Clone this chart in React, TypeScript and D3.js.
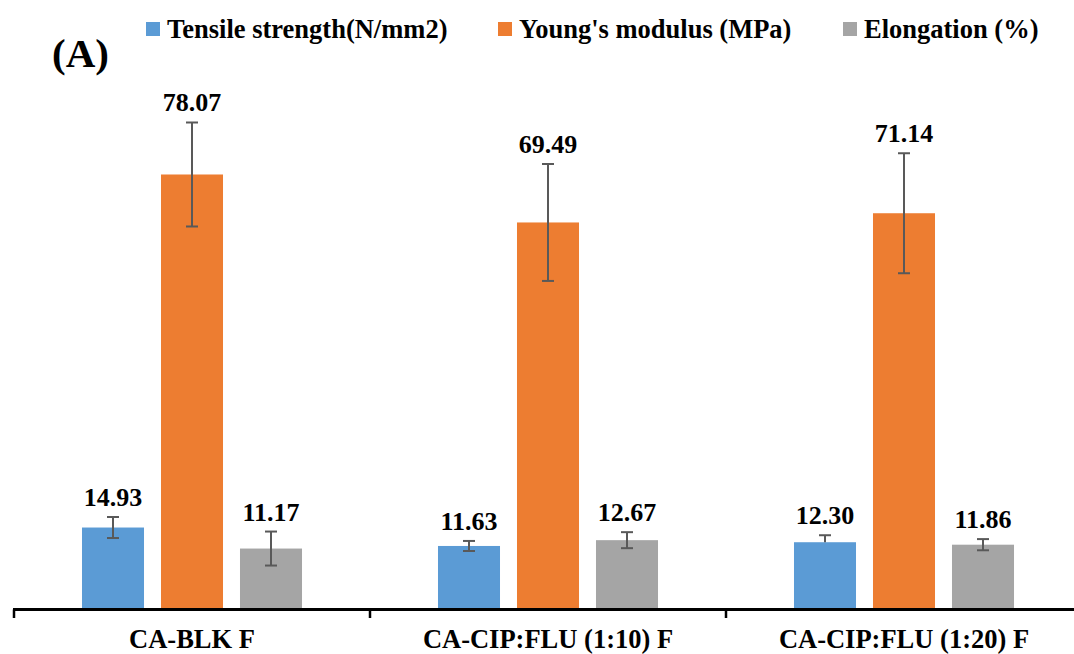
import React, { useEffect } from "react";
import * as d3 from "d3";

// Mechanical properties of the films, one value per formulation
const categories = ["CA-BLK F", "CA-CIP:FLU (1:10) F", "CA-CIP:FLU (1:20) F"];
const seriesNames = ["Tensile strength(N/mm2)", "Young's modulus (MPa)", "Elongation (%)"];

const tensile = [14.93, 11.63, 12.3];
const tensileErrPlus = [1.88, 0.9, 1.25];
const tensileErrMinus = [1.88, 0.9, 0];

const young = [78.07, 69.49, 71.14];
const youngErrPlus = [9.3, 10.46, 10.73];
const youngErrMinus = [9.3, 10.46, 10.73];

const elongation = [11.17, 12.67, 11.86];
const elongationErrPlus = [3.04, 1.43, 1.0];
const elongationErrMinus = [3.04, 1.43, 1.0];

const colors = ["#5B9BD5", "#ED7D31", "#A5A5A5"];

const W = 1074;
const H = 654;
const FONT = "Liberation Serif";

type Row = { cat: string; series: string; value: number; plus: number; minus: number; color: string };

const seriesData = [
  { values: tensile, plus: tensileErrPlus, minus: tensileErrMinus },
  { values: young, plus: youngErrPlus, minus: youngErrMinus },
  { values: elongation, plus: elongationErrPlus, minus: elongationErrMinus },
];

const rows: Row[] = [];
categories.forEach((cat, ci) => {
  seriesData.forEach((s, si) => {
    rows.push({
      cat,
      series: seriesNames[si],
      value: s.values[ci],
      plus: s.plus[ci],
      minus: s.minus[ci],
      color: colors[si],
    });
  });
});

export default function App() {
  useEffect(() => {
    document.body.style.margin = "0";
  }, []);

  const x = d3.scaleBand<string>().domain(categories).range([14, 1082]).padding(0);
  const inner = d3
    .scaleBand<string>()
    .domain(seriesNames)
    .range([-118.5, 118.5])
    .paddingInner(0.215)
    .paddingOuter(0.1075);
  const y = d3.scaleLinear().domain([0, 80]).range([611, 163.7]);

  const axisY = 609.5;
  const tickPositions = categories
    .map((c) => x(c)!)
    .concat([x(categories[categories.length - 1])! + x.bandwidth()]);

  const legendX = [146, 498, 843];

  return (
    <svg width={W} height={H} style={{ display: "block" }}>
      <rect x={0} y={0} width={W} height={H} fill="#fff" />

      {/* panel label */}
      <text x={52} y={67} fontSize={41} fontFamily={FONT} fontWeight="bold" fill="#000">
        (A)
      </text>

      {/* legend */}
      {seriesNames.map((name, i) => (
        <g key={name} transform={`translate(${legendX[i]},0)`}>
          <rect x={0} y={22} width={14} height={14} fill={colors[i]} />
          <text x={21} y={38} fontSize={26.5} fontFamily={FONT} fontWeight="bold" fill="#000">
            {name}
          </text>
        </g>
      ))}

      {/* bars */}
      {rows.map((r) => {
        const cx = x(r.cat)! + x.bandwidth() / 2;
        const bx = cx + inner(r.series)!;
        return (
          <rect
            key={r.cat + r.series}
            x={bx}
            y={y(r.value)}
            width={inner.bandwidth()}
            height={y(0) - y(r.value)}
            fill={r.color}
          />
        );
      })}

      {/* error bars */}
      {rows.map((r) => {
        const cx = x(r.cat)! + x.bandwidth() / 2 + inner(r.series)! + inner.bandwidth() / 2;
        const top = y(r.value + r.plus);
        const bot = y(r.value - r.minus);
        return (
          <g key={"e" + r.cat + r.series} stroke="#595959" strokeWidth={2}>
            <line x1={cx} x2={cx} y1={top} y2={bot} />
            <line x1={cx - 6} x2={cx + 6} y1={top} y2={top} />
            {r.minus > 0 && <line x1={cx - 6} x2={cx + 6} y1={bot} y2={bot} />}
          </g>
        );
      })}

      {/* value labels */}
      {rows.map((r) => {
        const cx = x(r.cat)! + x.bandwidth() / 2 + inner(r.series)! + inner.bandwidth() / 2;
        return (
          <text
            key={"l" + r.cat + r.series}
            x={cx}
            y={y(r.value + r.plus) - 11}
            textAnchor="middle"
            fontSize={26}
            fontFamily={FONT}
            fontWeight="bold"
            fill="#000"
          >
            {r.value.toFixed(2)}
          </text>
        );
      })}

      {/* category axis */}
      <line x1={13} x2={W} y1={axisY} y2={axisY} stroke="#000" strokeWidth={3} />
      {tickPositions.map((t, i) => (
        <line key={"t" + i} x1={t} x2={t} y1={axisY} y2={618} stroke="#000" strokeWidth={2.5} />
      ))}
      {categories.map((c) => (
        <text
          key={"c" + c}
          x={x(c)! + x.bandwidth() / 2}
          y={648}
          textAnchor="middle"
          fontSize={26.5}
          fontFamily={FONT}
          fontWeight="bold"
          fill="#000"
        >
          {c}
        </text>
      ))}
    </svg>
  );
}
